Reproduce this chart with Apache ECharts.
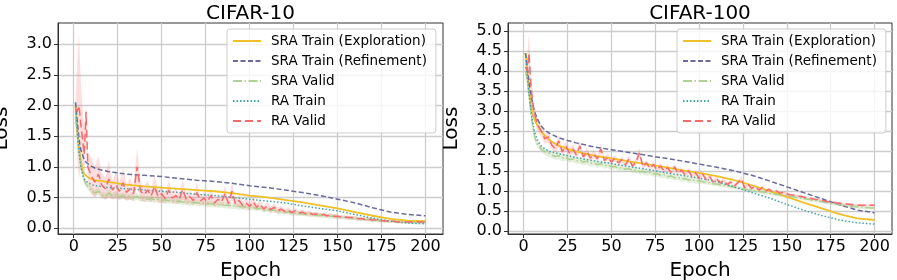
<!DOCTYPE html>
<html><head><meta charset="utf-8">
<script src="https://cdn.jsdelivr.net/npm/echarts@6/dist/echarts.min.js"></script>
<style>html,body{margin:0;padding:0;background:#fff}#c{width:897px;height:280px}</style>
</head><body><div id="c"></div>
<script>
// ---------- categories / ticks ----------
const smoothEpochs = [1,2,3,4,5,6,8,10,12,15,20,25,30,40,50,60,70,80,90,100,110,120,130,140,150,160,170,180,190,200];
const fineEpochs = [1,2,3,4,5,6,7];
for (let e = 8; e <= 200; e += 2) fineEpochs.push(e);
const xTicks = [0,25,50,75,100,125,150,175,200];
const yTicksC10 = [0,0.5,1.0,1.5,2.0,2.5,3.0];
const yTicksC100 = [0,0.5,1.0,1.5,2.0,2.5,3.0,3.5,4.0,4.5,5.0];
const seriesNames = ['SRA Train (Exploration)','SRA Train (Refinement)','SRA Valid','RA Train','RA Valid'];

// ---------- CIFAR-10 ----------
const c10ExplTrain = [2.00,1.60,1.30,1.10,0.95,0.88,0.83,0.80,0.78,0.77,0.75,0.73,0.71,0.68,0.66,0.64,0.62,0.60,0.57,0.53,0.50,0.46,0.42,0.37,0.32,0.26,0.20,0.15,0.12,0.11];
const c10RefTrain  = [2.05,1.75,1.45,1.28,1.20,1.10,1.05,1.01,0.98,0.95,0.92,0.90,0.88,0.86,0.84,0.81,0.78,0.76,0.73,0.69,0.66,0.62,0.58,0.53,0.47,0.41,0.33,0.26,0.22,0.20];
const c10RATrain   = [2.05,1.60,1.25,1.00,0.88,0.80,0.74,0.71,0.69,0.68,0.66,0.65,0.64,0.62,0.60,0.58,0.55,0.53,0.50,0.47,0.44,0.41,0.36,0.32,0.28,0.22,0.16,0.11,0.08,0.07];
const c10SRAValid = [1.80,1.55,1.30,1.05,0.88,0.78,0.72,
 0.68,0.62,0.57,0.60,0.54,0.52,0.57,0.52,0.55,0.51,0.53,0.50,0.51,0.49,0.52,0.48,0.49,0.47,0.48,0.46,0.47,0.45,
 0.46,0.44,0.45,0.43,0.44,0.42,0.43,0.41,0.42,0.41,0.41,0.40,0.40,0.39,0.39,0.38,0.38,0.37,0.37,0.36,0.36,0.35,0.35,0.34,0.33,
 0.33,0.32,0.32,0.30,0.30,0.29,0.29,0.27,0.27,0.26,0.26,0.25,0.24,0.24,0.23,0.23,0.22,0.22,0.21,0.21,0.20,0.20,0.19,0.19,0.18,
 0.18,0.17,0.17,0.16,0.16,0.15,0.15,0.14,0.14,0.13,0.13,0.12,0.12,0.11,0.11,0.11,0.10,0.10,0.10,0.10,0.09,0.09,0.09,0.09,0.09];
const c10SRAValidSpread = [0.15,0.15,0.12,0.10,0.08,0.07,0.06,
 0.06,0.06,0.05,0.06,0.05,0.05,0.06,0.05,0.05,0.05,0.05,0.05,0.05,0.05,0.06,0.05,0.05,0.05,0.05,0.05,0.05,0.05,
 0.05,0.05,0.05,0.05,0.05,0.05,0.05,0.05,0.05,0.05,0.05,0.05,0.05,0.05,0.05,0.05,0.05,0.05,0.05,0.05,0.05,0.05,0.05,0.05,0.05,
 0.04,0.04,0.04,0.04,0.04,0.04,0.04,0.04,0.04,0.04,0.04,0.04,0.04,0.04,0.04,0.04,0.04,0.04,0.04,0.04,0.04,0.04,0.04,0.04,0.04,
 0.03,0.03,0.03,0.03,0.03,0.03,0.03,0.03,0.03,0.03,0.03,0.03,0.03,0.03,0.03,0.03,0.03,0.03,0.03,0.03,0.03,0.03,0.03,0.03,0.03];
const c10RAValid = [1.95,1.90,2.00,1.70,1.45,1.20,1.90,
 1.00,0.85,0.75,0.88,0.70,0.64,0.80,0.62,0.70,0.60,0.74,0.58,0.64,0.56,1.00,0.60,0.54,0.62,0.52,0.68,0.51,0.56,
 0.48,0.62,0.49,0.53,0.47,0.63,0.46,0.51,0.45,0.58,0.44,0.49,0.43,0.53,0.41,0.47,0.42,0.56,0.40,0.60,0.39,0.45,0.37,0.41,0.35,
 0.43,0.34,0.39,0.31,0.36,0.30,0.34,0.28,0.31,0.27,0.29,0.25,0.28,0.24,0.26,0.23,0.25,0.22,0.23,0.21,0.22,0.20,0.21,0.19,0.19,
 0.18,0.18,0.17,0.17,0.16,0.15,0.15,0.14,0.14,0.13,0.13,0.12,0.12,0.11,0.11,0.11,0.10,0.10,0.10,0.10,0.10,0.10,0.10,0.10,0.10];
const c10RAValidSpread = [0.10,0.80,1.19,0.70,0.50,0.40,0.14,
 0.25,0.30,0.25,0.30,0.20,0.18,0.30,0.15,0.22,0.14,0.25,0.13,0.18,0.12,0.30,0.15,0.12,0.16,0.10,0.18,0.10,0.14,
 0.09,0.16,0.09,0.12,0.08,0.16,0.08,0.10,0.08,0.15,0.07,0.10,0.07,0.12,0.07,0.09,0.07,0.13,0.07,0.15,0.06,0.09,0.06,0.08,0.06,
 0.08,0.06,0.07,0.05,0.07,0.05,0.06,0.05,0.05,0.04,0.05,0.04,0.05,0.04,0.04,0.04,0.04,0.03,0.04,0.03,0.03,0.03,0.03,0.03,0.03,
 0.03,0.03,0.03,0.03,0.03,0.03,0.03,0.03,0.03,0.03,0.02,0.02,0.02,0.02,0.02,0.02,0.02,0.02,0.02,0.02,0.02,0.02,0.02,0.02,0.02];

// ---------- CIFAR-100 ----------
const c100ExplTrain = [4.45,4.00,3.55,3.20,2.95,2.80,2.62,2.48,2.38,2.26,2.13,2.05,1.98,1.88,1.81,1.74,1.67,1.60,1.52,1.45,1.37,1.27,1.14,1.00,0.85,0.70,0.56,0.42,0.31,0.27];
const c100RefTrain  = [4.45,4.10,3.75,3.45,3.20,3.00,2.78,2.62,2.52,2.43,2.33,2.26,2.20,2.10,2.03,1.96,1.89,1.82,1.75,1.67,1.59,1.50,1.39,1.25,1.10,0.95,0.80,0.65,0.52,0.45];
const c100RATrain   = [4.45,3.95,3.45,3.05,2.75,2.50,2.25,2.12,2.05,1.98,1.93,1.88,1.83,1.75,1.68,1.61,1.54,1.46,1.39,1.32,1.23,1.10,0.96,0.82,0.66,0.51,0.38,0.27,0.20,0.17];
const c100SRAValid = [4.00,3.80,3.40,3.00,2.65,2.40,2.25,
 2.15,2.05,1.98,1.95,1.90,1.86,1.88,1.82,1.84,1.78,1.80,1.75,1.77,1.72,1.74,1.69,1.70,1.66,1.68,1.63,1.65,1.60,
 1.61,1.57,1.58,1.54,1.56,1.51,1.52,1.48,1.49,1.45,1.46,1.42,1.43,1.39,1.40,1.36,1.37,1.33,1.34,1.30,1.31,1.27,1.28,1.25,1.25,
 1.23,1.21,1.20,1.18,1.17,1.15,1.14,1.12,1.11,1.09,1.08,1.06,1.05,1.03,1.02,1.00,0.99,0.97,0.96,0.94,0.93,0.91,0.90,0.88,0.87,
 0.86,0.85,0.83,0.82,0.80,0.79,0.77,0.76,0.74,0.73,0.71,0.70,0.68,0.67,0.66,0.64,0.63,0.62,0.61,0.60,0.59,0.58,0.58,0.57,0.57];
const c100SRAValidSpread = [0.20,0.20,0.15,0.12,0.10,0.10,0.09,
 0.08,0.08,0.08,0.10,0.08,0.08,0.10,0.08,0.08,0.08,0.08,0.08,0.09,0.08,0.08,0.08,0.08,0.08,0.08,0.08,0.08,0.08,
 0.07,0.07,0.07,0.07,0.07,0.07,0.07,0.07,0.07,0.07,0.07,0.07,0.07,0.07,0.07,0.07,0.07,0.07,0.07,0.07,0.07,0.07,0.07,0.07,0.07,
 0.05,0.05,0.05,0.05,0.05,0.05,0.05,0.05,0.05,0.05,0.05,0.05,0.05,0.05,0.05,0.05,0.05,0.05,0.05,0.05,0.05,0.05,0.05,0.05,0.05,
 0.04,0.04,0.04,0.04,0.04,0.04,0.04,0.04,0.04,0.04,0.04,0.04,0.04,0.04,0.04,0.04,0.04,0.04,0.04,0.04,0.04,0.04,0.04,0.04,0.04];
const c100RAValid = [4.10,4.00,4.45,3.70,3.25,2.95,2.80,
 2.65,2.50,2.30,2.35,2.15,2.05,2.25,1.98,2.12,1.95,2.05,1.90,2.12,1.85,1.98,1.82,1.92,1.80,2.05,1.76,1.85,1.72,
 1.82,1.70,1.78,1.65,1.80,1.62,1.72,1.95,1.60,1.70,1.56,1.66,1.52,1.62,1.50,1.58,1.46,1.60,1.44,1.52,1.40,1.50,1.36,1.45,1.32,
 1.42,1.28,1.36,1.22,1.30,1.20,1.26,1.16,1.22,1.12,1.20,1.30,1.08,1.16,1.06,1.12,1.02,1.08,1.00,1.04,0.96,1.00,0.94,0.96,0.92,
 0.90,0.89,0.87,0.86,0.84,0.82,0.81,0.79,0.78,0.76,0.74,0.73,0.72,0.70,0.69,0.68,0.67,0.66,0.65,0.65,0.64,0.64,0.64,0.64,0.64];
const c100RAValidSpread = [0.10,0.35,0.50,0.30,0.25,0.20,0.15,
 0.15,0.15,0.12,0.15,0.10,0.10,0.15,0.10,0.12,0.10,0.12,0.08,0.14,0.08,0.10,0.08,0.10,0.08,0.12,0.08,0.09,0.07,
 0.08,0.07,0.08,0.07,0.09,0.07,0.08,0.12,0.07,0.08,0.06,0.08,0.06,0.08,0.06,0.08,0.06,0.07,0.06,0.07,0.06,0.07,0.06,0.07,0.06,
 0.07,0.06,0.06,0.05,0.06,0.05,0.06,0.05,0.05,0.05,0.05,0.08,0.05,0.05,0.05,0.05,0.04,0.05,0.04,0.04,0.04,0.04,0.04,0.04,0.04,
 0.03,0.03,0.03,0.03,0.03,0.03,0.03,0.03,0.03,0.03,0.03,0.03,0.03,0.03,0.03,0.03,0.03,0.03,0.03,0.03,0.03,0.03,0.03,0.03,0.03];

// sanity check of lengths
[c10ExplTrain,c10RefTrain,c10RATrain,c100ExplTrain,c100RefTrain,c100RATrain].forEach((a,i)=>{ if (a.length!==smoothEpochs.length) throw new Error('smooth len '+i+' '+a.length); });
[c10SRAValid,c10SRAValidSpread,c10RAValid,c10RAValidSpread,c100SRAValid,c100SRAValidSpread,c100RAValid,c100RAValidSpread].forEach((a,i)=>{ if (a.length!==fineEpochs.length) throw new Error('fine len '+i+' '+a.length+' vs '+fineEpochs.length); });

// ---------- styles ----------
const FONT = 'DejaVu Sans';
const COL = { expl:'#F0C027', ref:'#6A6A9C', sraV:'#A9CC8A', raT:'#42A3A8', raV:'#F46B6B' };

function pairs(xs, ys){ return xs.map((x,i)=>[x, ys[i]]); }

function bandSeries(g, mean, spread, color){
  return { type:'custom', xAxisIndex:g, yAxisIndex:g, silent:true, z:1, data:[[fineEpochs[0], mean[0]]],
    renderItem:(params, api)=>{
      const up = fineEpochs.map((x,i)=>api.coord([x, mean[i]+spread[i]]));
      const lo = fineEpochs.map((x,i)=>api.coord([x, mean[i]-spread[i]])).reverse();
      return { type:'polygon', shape:{points:up.concat(lo)}, style:{fill:color} };
    } };
}

function buildSeries(g, d){
  const s = [];
  s.push(bandSeries(g, d.sraV, d.sraVS, 'rgba(169,204,138,0.30)'));
  s.push(bandSeries(g, d.raV, d.raVS, 'rgba(246,120,120,0.25)'));
  s.push({ name:seriesNames[0], type:'line', xAxisIndex:g, yAxisIndex:g, symbol:'none', data:pairs(smoothEpochs,d.expl),
    lineStyle:{color:COL.expl, width:1.8, type:'solid'}, itemStyle:{color:COL.expl}, z:3 });
  s.push({ name:seriesNames[1], type:'line', xAxisIndex:g, yAxisIndex:g, symbol:'none', data:pairs(smoothEpochs,d.ref),
    lineStyle:{color:COL.ref, width:1.5, type:[5,2.5]}, itemStyle:{color:COL.ref}, z:3 });
  s.push({ name:seriesNames[2], type:'line', xAxisIndex:g, yAxisIndex:g, symbol:'none', data:pairs(fineEpochs,d.sraV),
    lineStyle:{color:COL.sraV, width:1.5, type:[9,2.5,1.5,2.5], opacity:0.9}, itemStyle:{color:COL.sraV}, z:3 });
  s.push({ name:seriesNames[3], type:'line', xAxisIndex:g, yAxisIndex:g, symbol:'none', data:pairs(smoothEpochs,d.raT),
    lineStyle:{color:COL.raT, width:1.5, type:[1.5,2]}, itemStyle:{color:COL.raT}, z:3 });
  s.push({ name:seriesNames[4], type:'line', xAxisIndex:g, yAxisIndex:g, symbol:'none', data:pairs(fineEpochs,d.raV),
    lineStyle:{color:COL.raV, width:1.5, type:[8,4]}, itemStyle:{color:COL.raV}, z:3 });
  return s;
}

const gridLine = { show:true, lineStyle:{color:'#cccccc', width:1.3} };
function xAxis(g){
  return { type:'value', gridIndex:g, min:-8.95, max:209.95,
    name:'Epoch', nameLocation:'middle', nameGap:27,
    nameTextStyle:{fontFamily:FONT, fontSize:20, color:'#000'},
    axisLine:{show:true, onZero:false, lineStyle:{color:'#333', width:1}},
    axisTick:{show:true, length:4, customValues:xTicks, lineStyle:{color:'#333'}},
    axisLabel:{customValues:xTicks, margin:5, fontFamily:FONT, fontSize:16, color:'#000'},
    splitLine:gridLine };
}
function yAxis(g, min, max, ticks){
  return { type:'value', gridIndex:g, min, max,
    name:'Loss', nameLocation:'middle', nameGap:46,
    nameTextStyle:{fontFamily:FONT, fontSize:20, color:'#000'},
    axisLine:{show:true, onZero:false, lineStyle:{color:'#333', width:1}},
    axisTick:{show:true, length:4, customValues:ticks, lineStyle:{color:'#333'}},
    axisLabel:{customValues:ticks, margin:6, fontFamily:FONT, fontSize:16, color:'#000', formatter:v=>v.toFixed(1)},
    splitLine:gridLine };
}
function legend(left){
  return { orient:'vertical', left, top:29, data:seriesNames, itemWidth:28, itemHeight:14, itemGap:6,
    padding:[5,9,5,5], backgroundColor:'rgba(255,255,255,0.8)', borderColor:'#cccccc', borderWidth:1, borderRadius:3,
    itemStyle:{opacity:0},
    textStyle:{fontFamily:FONT, fontSize:13.5, color:'#000', padding:[0,0,0,5]}, selectedMode:false };
}

const chart = echarts.init(document.getElementById('c'), null, {renderer:'canvas'});
chart.setOption({
  animation:false,
  backgroundColor:'#ffffff',
  title:[
    {text:'CIFAR-10', left:250.5, top:4, textAlign:'center', padding:0, textStyle:{fontFamily:FONT, fontSize:20, fontWeight:'normal', color:'#000'}},
    {text:'CIFAR-100', left:700, top:4, textAlign:'center', padding:0, textStyle:{fontFamily:FONT, fontSize:20, fontWeight:'normal', color:'#000'}}
  ],
  grid:[
    {left:58, top:23, width:385, height:211, show:true, borderColor:'#333', borderWidth:1, backgroundColor:'transparent', containLabel:false, outerBoundsMode:'none'},
    {left:508, top:23, width:384, height:211, show:true, borderColor:'#333', borderWidth:1, backgroundColor:'transparent', containLabel:false, outerBoundsMode:'none'}
  ],
  xAxis:[xAxis(0), xAxis(1)],
  yAxis:[yAxis(0,-0.098,3.348,yTicksC10), yAxis(1,-0.08,5.2,yTicksC100)],
  legend:[legend(227), legend(677)],
  series:[
    ...buildSeries(0,{expl:c10ExplTrain, ref:c10RefTrain, raT:c10RATrain, sraV:c10SRAValid, sraVS:c10SRAValidSpread, raV:c10RAValid, raVS:c10RAValidSpread}),
    ...buildSeries(1,{expl:c100ExplTrain, ref:c100RefTrain, raT:c100RATrain, sraV:c100SRAValid, sraVS:c100SRAValidSpread, raV:c100RAValid, raVS:c100RAValidSpread})
  ]
});
</script></body></html>
